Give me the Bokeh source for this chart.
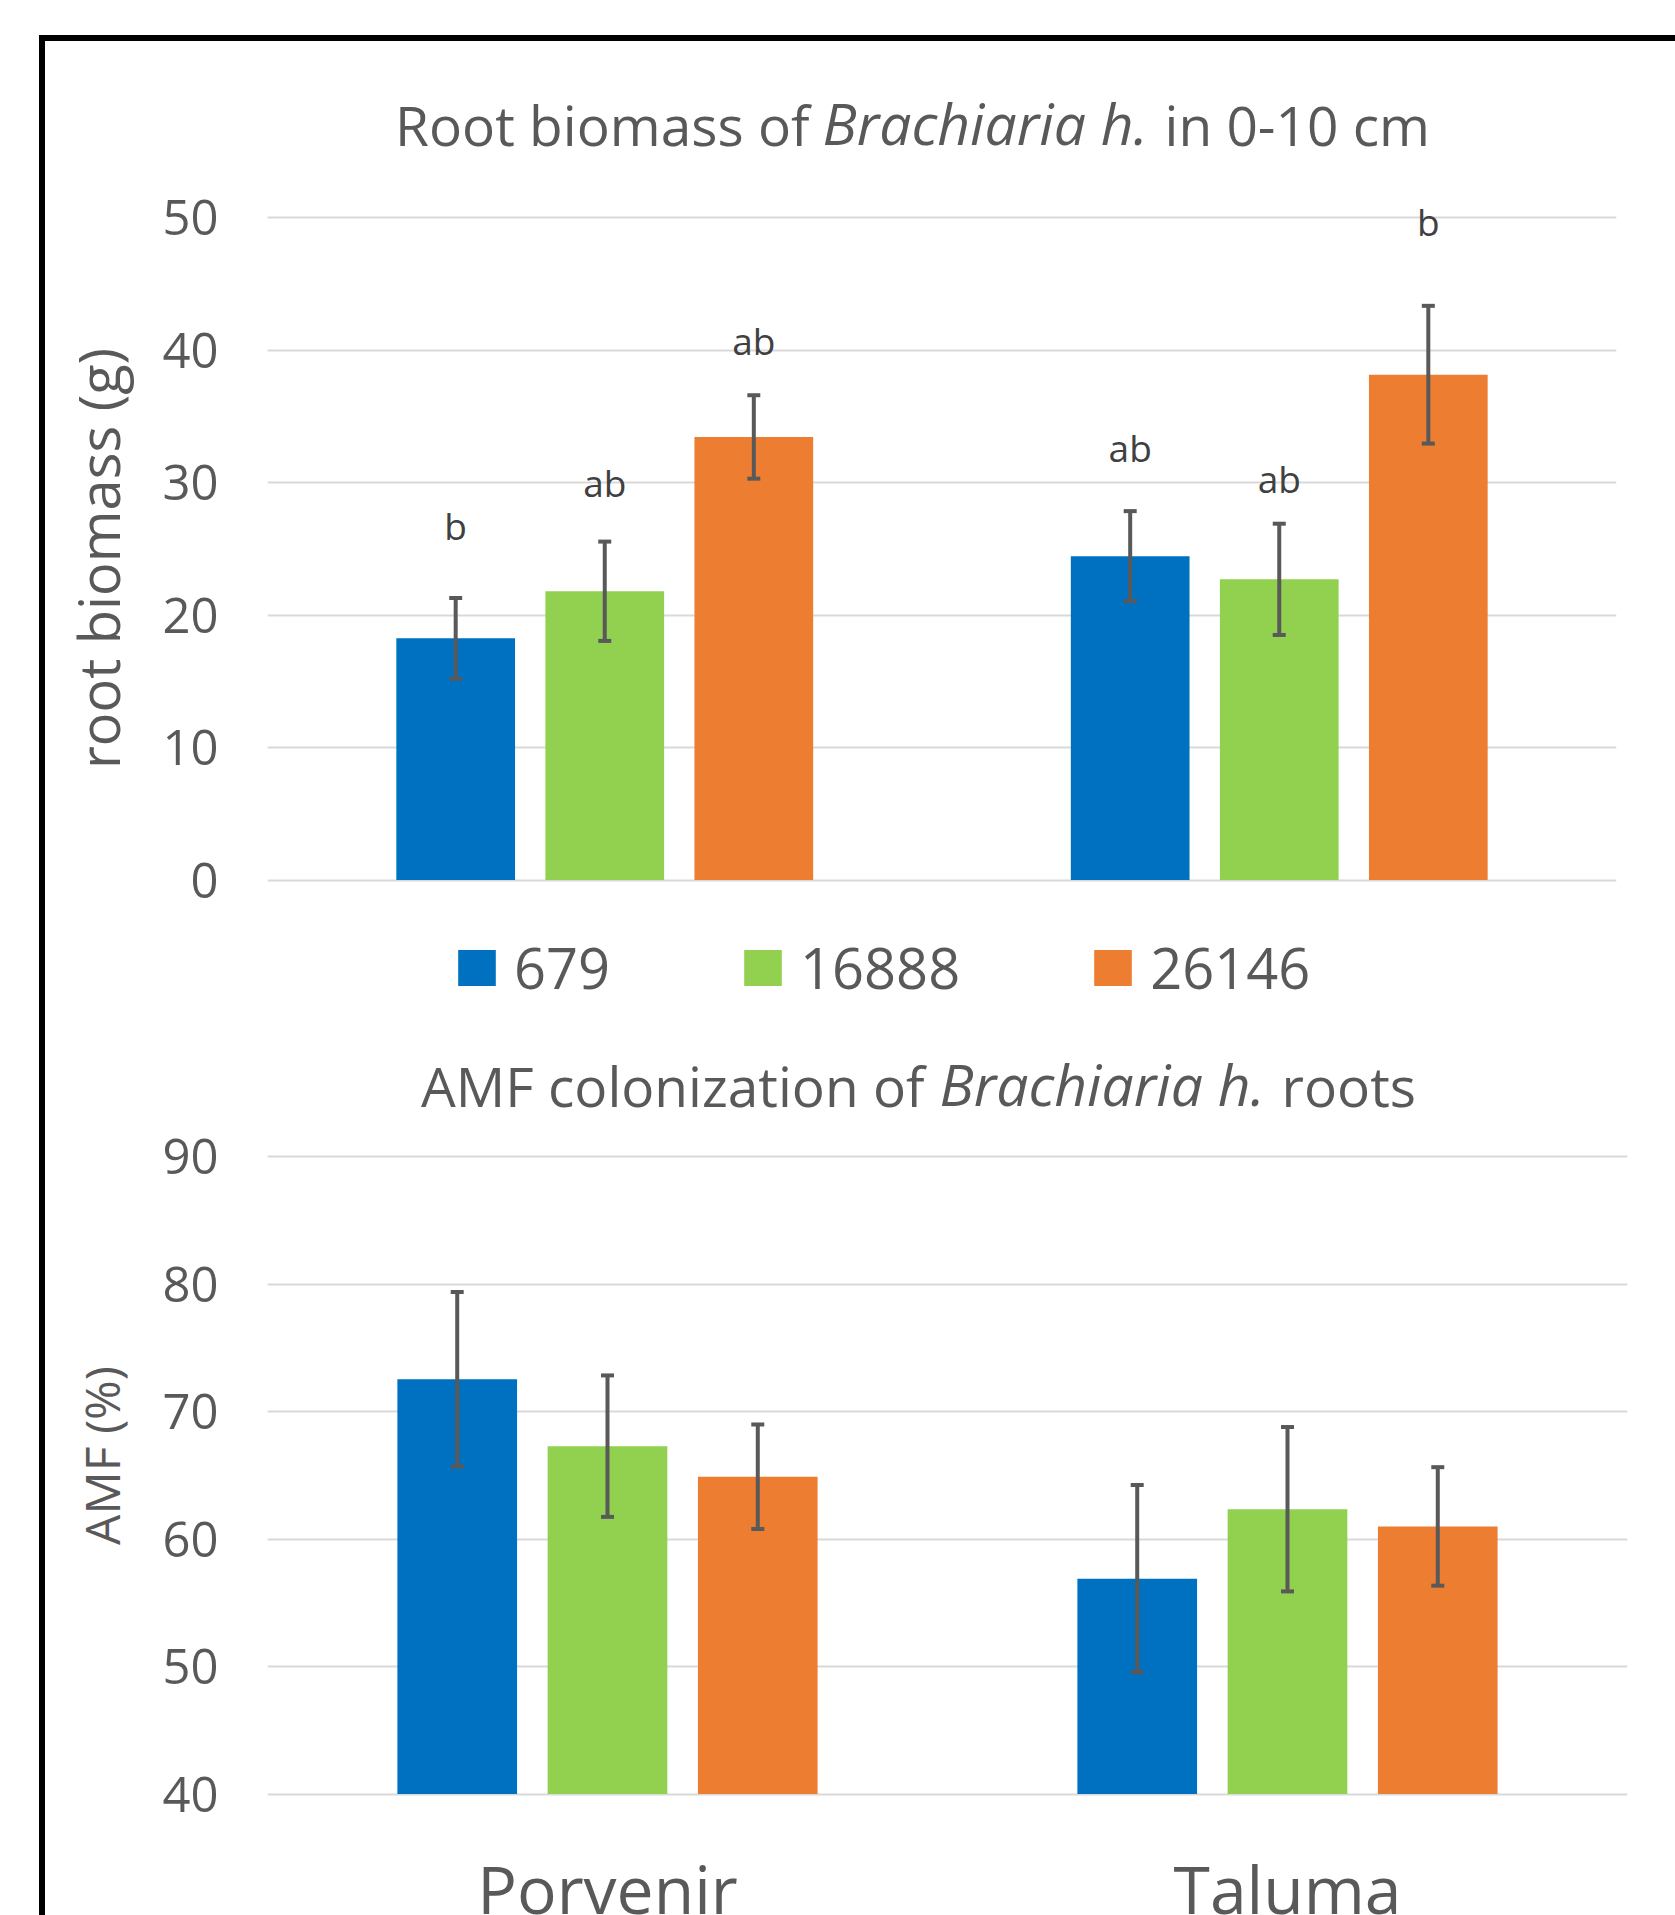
import math
from bokeh.plotting import figure
from bokeh.models import (FactorRange, Range1d, FixedTicker, ColumnDataSource, Whisker,
                          TeeHead, Legend, LegendItem, Div, Spacer)
from bokeh.layouts import column, row
from bokeh.transform import dodge
from bokeh.core.properties import value
from bokeh.embed import file_html
from bokeh.resources import INLINE

# ---------------- data ----------------
sites = ["Porvenir", "Taluma"]
series = ["679", "16888", "26146"]

biomass_679 = [18.25, 24.45]
biomass_16888 = [21.8, 22.7]
biomass_26146 = [33.45, 38.15]
biomass_err_679 = [3.05, 3.4]
biomass_err_16888 = [3.75, 4.2]
biomass_err_26146 = [3.15, 5.2]
letters_679 = ["b", "ab"]
letters_16888 = ["ab", "ab"]
letters_26146 = ["ab", "b"]
letter_y_679 = [25.5, 31.4]
letter_y_16888 = [28.75, 29.05]
letter_y_26146 = [39.5, 48.5]

amf_679 = [72.55, 56.9]
amf_16888 = [67.3, 62.35]
amf_26146 = [64.9, 61.0]
amf_err_679 = [6.85, 7.35]
amf_err_16888 = [5.55, 6.45]
amf_err_26146 = [4.1, 4.65]

biomass_ticks = [0, 10, 20, 30, 40, 50]
amf_ticks = [40, 50, 60, 70, 80, 90]

# ---------------- style ----------------
FONT = "Open Sans"
TXT = "#595959"
LET = "#404040"
ERR = "#595959"
GRID = "#d9d9d9"
colors = ["#0070C0", "#92D050", "#ED7D31"]
offsets = [-0.221, 0.0, 0.221]
BAR_W = 0.176
BASE_SHIFT = 0.44       # em: correction for where the alphabetic baseline is drawn

PAGE_W = 1675
LINE_X0, LINE_Y0, LINE_T = 39, 35, 6
INNER_X = LINE_X0 + LINE_T          # 45
INNER_Y = LINE_Y0 + LINE_T          # 41
LABEL_W = 112                       # column holding the y-axis titles
FIG_LEFT = INNER_X + LABEL_W        # 157
FRAME_L = 267                       # page x of plot-area left edge
RIGHT_BORDER = 48
SPLIT = 1040
PAGE_H = 1915


def make_fig(top, bottom, frame_r, zero_page, zero_val, ppu, ticks):
    h = bottom - top
    y0 = zero_val - (bottom - zero_page) / ppu
    y1 = zero_val + (zero_page - top) / ppu
    p = figure(width=frame_r + RIGHT_BORDER - FIG_LEFT, height=h,
               x_range=FactorRange(*sites, range_padding=0),
               y_range=Range1d(y0, y1),
               output_backend="svg", toolbar_location=None,
               x_axis_location=None,
               min_border_left=FRAME_L - FIG_LEFT,
               min_border_right=RIGHT_BORDER,
               min_border_top=0, min_border_bottom=0,
               outline_line_color=None, background_fill_color="white",
               border_fill_color="white")
    tk = FixedTicker(ticks=ticks)
    p.yaxis.ticker = tk
    p.ygrid.ticker = tk
    p.yaxis.axis_line_color = None
    p.yaxis.major_tick_line_color = None
    p.yaxis.major_tick_out = 0
    p.yaxis.major_tick_in = 0
    p.yaxis.minor_tick_line_color = None
    p.yaxis.major_label_standoff = 49
    p.yaxis.major_label_text_font = FONT
    p.yaxis.major_label_text_font_size = "49px"
    p.yaxis.major_label_text_color = TXT
    p.ygrid.grid_line_color = GRID
    p.ygrid.grid_line_width = 2
    p.xgrid.grid_line_color = None
    geom = dict(top=top, bottom=bottom, frame_r=frame_r, zero_page=zero_page,
                zero_val=zero_val, ppu=ppu)
    return p, geom


def xd(g, page_x):
    return (page_x - FRAME_L) / (g["frame_r"] - FRAME_L) * len(sites)


def yd(g, page_y):
    return g["zero_val"] + (g["zero_page"] - page_y) / g["ppu"]


def add_title(p, g, baseline, parts):
    y = yd(g, baseline)
    for txt, px, align, style, size in parts:
        p.text(x=[xd(g, px)], y=[y], text=[txt], text_font=value(FONT),
               text_font_size=f"{size}px", text_font_style=style, text_color=TXT,
               text_align=align, text_baseline="alphabetic",
               y_offset=-BASE_SHIFT * size)


def add_bars(p, g, vals, errs, base, letters=None, letter_y=None):
    renderers = []
    for i in range(3):
        d = dict(site=sites, top=vals[i],
                 upper=[v + e for v, e in zip(vals[i], errs[i])],
                 lower=[v - e for v, e in zip(vals[i], errs[i])])
        if letters is not None:
            d["letter"] = letters[i]
            d["ly"] = letter_y[i]
        src = ColumnDataSource(d)
        xs = dodge("site", offsets[i], range=p.x_range)
        r = p.vbar(x=xs, top="top", bottom=base, width=BAR_W, fill_color=colors[i],
                   line_color=None, source=src)
        renderers.append(r)
        w = Whisker(base=xs, upper="upper", lower="lower", source=src,
                    line_color=ERR, line_width=4, level="overlay",
                    upper_head=TeeHead(size=13, line_color=ERR, line_width=4),
                    lower_head=TeeHead(size=13, line_color=ERR, line_width=4))
        p.add_layout(w)
        if letters is not None:
            p.text(x=xs, y="ly", text="letter", source=src, text_font=value(FONT),
                   text_font_size="37px", text_color=LET, text_align="center",
                   text_baseline="alphabetic", y_offset=-BASE_SHIFT * 37)
    return renderers


def label_fig(top, bottom, text, size, baseline_x, center_y):
    h = bottom - top
    f = figure(width=LABEL_W, height=h, x_range=Range1d(0, LABEL_W),
               y_range=Range1d(h, 0), output_backend="svg", toolbar_location=None,
               x_axis_location=None, y_axis_location=None, min_border=0,
               outline_line_color=None, background_fill_color="white",
               border_fill_color="white")
    f.grid.visible = False
    f.text(x=[baseline_x - INNER_X - BASE_SHIFT * size], y=[center_y - top], text=[text],
           angle=math.pi / 2, text_font=value(FONT), text_font_size=f"{size}px",
           text_color=TXT, text_align="center", text_baseline="alphabetic")
    return f


# ---------------- top chart: root biomass ----------------
p1, g1 = make_fig(top=INNER_Y, bottom=SPLIT, frame_r=1616, zero_page=879.5, zero_val=0,
                  ppu=13.245, ticks=biomass_ticks)
rs = add_bars(p1, g1,
              [biomass_679, biomass_16888, biomass_26146],
              [biomass_err_679, biomass_err_16888, biomass_err_26146], 0,
              [letters_679, letters_16888, letters_26146],
              [letter_y_679, letter_y_16888, letter_y_26146])
add_title(p1, g1, 148, [("Root biomass of", 809, "right", "normal", 55),
                        ("Brachiaria h.", 822, "left", "italic", 57),
                        ("in 0-10 cm", 1164, "left", "normal", 55)])

legend = Legend(items=[LegendItem(label=s, renderers=[r]) for s, r in zip(series, rs)],
                orientation="horizontal", location=(453 - FRAME_L, 35),
                glyph_width=47, glyph_height=45, label_standoff=14, spacing=129,
                padding=0, margin=0, border_line_color=None, background_fill_alpha=0,
                label_text_font=FONT, label_text_font_size="56px", label_text_color=TXT)
p1.add_layout(legend)

# ---------------- bottom chart: AMF colonization ----------------
p2, g2 = make_fig(top=SPLIT, bottom=PAGE_H, frame_r=1627, zero_page=1793.5, zero_val=40,
                  ppu=12.742, ticks=amf_ticks)
add_bars(p2, g2,
         [amf_679, amf_16888, amf_26146],
         [amf_err_679, amf_err_16888, amf_err_26146], 40)
add_title(p2, g2, 1109, [("AMF colonization of", 924, "right", "normal", 55),
                         ("Brachiaria h.", 939, "left", "italic", 57),
                         ("roots", 1281, "left", "normal", 55)])
cat_src = ColumnDataSource(dict(site=sites, y=[yd(g2, 1917)] * len(sites)))
p2.text(x="site", y="y", text="site", source=cat_src, text_font=value(FONT),
        text_font_size="66px", text_color=TXT, text_align="center",
        text_baseline="alphabetic", y_offset=-BASE_SHIFT * 66)

# ---------------- y-axis titles ----------------
l1 = label_fig(INNER_Y, SPLIT, "root biomass (g)", 56, 122, 558)
l2 = label_fig(SPLIT, PAGE_H, "AMF (%)", 48, 122, 1455)

# ---------------- frame & page layout ----------------
top_line = Div(text="", width=PAGE_W - LINE_X0, height=LINE_T, margin=0,
               styles={"background-color": "#000000"})
left_line = Div(text="", width=LINE_T, height=PAGE_H - INNER_Y, margin=0,
                styles={"background-color": "#000000"})
charts = row(column(l1, l2, spacing=0), column(p1, p2, spacing=0), spacing=0)
boxed = column(top_line, row(left_line, charts, spacing=0), spacing=0)
page = column(Spacer(width=PAGE_W, height=LINE_Y0, margin=0),
              row(Spacer(width=LINE_X0, height=PAGE_H - LINE_Y0, margin=0), boxed, spacing=0),
              spacing=0)

open("out.html", "w").write(file_html(page, INLINE))
